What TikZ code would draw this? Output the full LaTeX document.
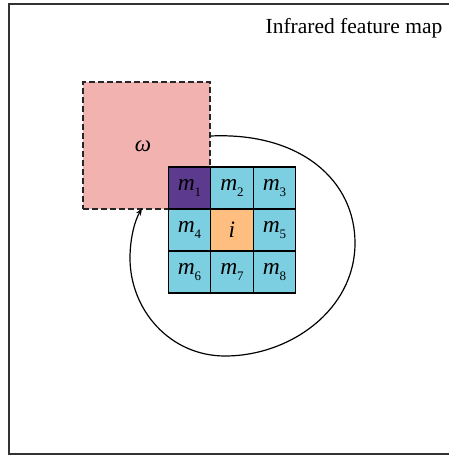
\documentclass[tikz,border=0pt]{standalone}
\usepackage{fontspec}
\setmainfont{Liberation Serif}
\usetikzlibrary{arrows.meta}
\definecolor{pinkc}{HTML}{F2B2B0}
\definecolor{purpc}{HTML}{5C3A8E}
\definecolor{cyanc}{HTML}{7BCFE1}
\definecolor{orangec}{HTML}{FDBE80}
\definecolor{framec}{HTML}{333333}
\newcommand{\mlab}[1]{\textit{m}\raisebox{-0.55ex}{\fontsize{13pt}{13pt}\selectfont #1}}
\tikzset{
  cell/.style={draw=black, line width=1.3pt, minimum width=42.5pt, minimum height=42pt, inner sep=0pt, anchor=center, font=\fontsize{23.5pt}{23.5pt}\selectfont},
  win/.style={draw=black!85, fill=pinkc, dashed, dash pattern=on 6pt off 3pt, line width=1.4pt, minimum width=127pt, minimum height=127pt, inner sep=0pt},
  loop/.style={draw=black, line width=1.2pt, -{Stealth[length=7pt,width=5.5pt]}}
}
\begin{document}
\begin{tikzpicture}[x=1pt,y=-1pt]
\useasboundingbox (0,0) rectangle (448,457);
\fill[white] (0,0) rectangle (448,457);
\draw[framec, line width=2pt] (452,4.5) -- (8.5,4.5) -- (8.5,454) -- (452,454);
\node[anchor=base east, inner sep=0pt, font=\fontsize{21.5pt}{21.5pt}\selectfont] (title) at (442.5,33.5) {Infrared feature map};
\node[win] (w) at (146.5,145.5) {};
\node[font=\fontsize{23pt}{23pt}\selectfont] (wl) at (143,146) {\textit{ω}};
\node[cell, fill=purpc] (m1) at (189.5,188) {\mlab{1}};
\node[cell, fill=cyanc] (m2) at (232,188) {\mlab{2}};
\node[cell, fill=cyanc] (m3) at (274.5,188) {\mlab{3}};
\node[cell, fill=cyanc] (m4) at (189.5,230) {\mlab{4}};
\node[cell, fill=orangec] (i) at (232,230) {\textit{i}};
\node[cell, fill=cyanc] (m5) at (274.5,230) {\mlab{5}};
\node[cell, fill=cyanc] (m6) at (189.5,272) {\mlab{6}};
\node[cell, fill=cyanc] (m7) at (232,272) {\mlab{7}};
\node[cell, fill=cyanc] (m8) at (274.5,272) {\mlab{8}};
\coordinate (s) at (w.east |- 0,136);
\coordinate (e) at (142,208.5);
\draw[loop] (s) .. controls (300,132) and (355,180) .. (355,243)
  .. controls (355,310) and (290,356) .. (225,356)
  .. controls (170,356) and (130,310) .. (130,258)
  .. controls (130,238) and (135,220) .. (e);
\end{tikzpicture}
\end{document}
